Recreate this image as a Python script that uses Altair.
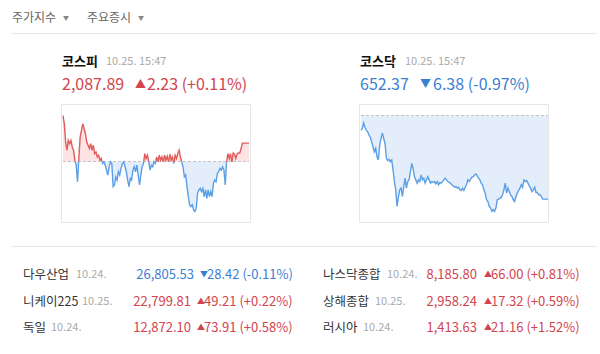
import altair as alt
import pandas as pd

# ---------------- data ----------------
kospi = [2091.24, 2090.24, 2088.03, 2087.03, 2088.23, 2087.83, 2088.23, 2087.43, 2087.03, 2085.82,
         2085.22, 2083.21, 2086.02, 2088.63, 2089.44, 2090.24, 2089.64, 2089.03, 2088.03, 2087.63,
         2087.23, 2087.83, 2087.03, 2087.63, 2086.62, 2086.82, 2086.22, 2086.42, 2085.82, 2086.02,
         2085.42, 2085.62, 2085.22, 2084.62, 2084.01, 2085.02, 2085.62, 2085.42, 2082.61, 2082.81,
         2083.81, 2083.41, 2084.42, 2084.01, 2084.82, 2085.42, 2085.62, 2085.02, 2084.42, 2083.41,
         2082.61, 2083.61, 2083.41, 2084.62, 2085.02, 2084.42, 2085.22, 2084.01, 2082.81, 2084.01,
         2085.02, 2085.42, 2086.62, 2086.02, 2086.42, 2085.62, 2084.62, 2085.22, 2085.02, 2085.62,
         2085.42, 2086.22, 2085.62, 2086.42, 2085.82, 2086.22, 2085.62, 2086.42, 2085.82, 2086.30,
         2085.62, 2086.54, 2085.82, 2086.22, 2085.42, 2086.42, 2086.02, 2086.62, 2087.03, 2086.22,
         2085.62, 2085.02, 2083.81, 2084.01, 2082.61, 2081.40, 2080.40, 2080.20, 2080.40, 2079.80,
         2079.60, 2080.00, 2081.80, 2082.21, 2082.41, 2082.01, 2082.41, 2081.40, 2082.21, 2081.20,
         2082.21, 2081.40, 2082.01, 2081.40, 2083.01, 2083.41, 2083.21, 2084.21, 2084.42, 2084.82,
         2084.62, 2085.02, 2084.62, 2082.81, 2085.62, 2086.62, 2086.02, 2086.62, 2085.62, 2086.70,
         2086.54, 2086.02, 2086.62, 2086.70, 2086.70, 2087.23, 2087.89, 2087.89, 2087.89, 2087.89,
         2087.89, 2087.89]

kosdaq = [657.64, 657.76, 658.19, 657.84, 657.64, 657.51, 657.26, 657.08, 656.75, 656.37,
          655.99, 656.24, 655.61, 655.36, 656.50, 657.00, 657.43, 657.00, 656.62, 655.48,
          655.31, 655.41, 655.23, 655.36, 654.60, 653.71, 653.08, 651.81, 652.57, 653.08,
          653.21, 652.57, 653.33, 653.97, 653.21, 653.71, 653.84, 654.47, 655.10, 654.72,
          654.09, 653.84, 653.59, 653.84, 653.71, 654.22, 653.84, 653.97, 653.59, 653.84,
          654.09, 653.84, 653.59, 653.71, 653.64, 653.71, 653.53, 653.71, 653.46, 653.64,
          653.59, 653.71, 653.84, 653.97, 653.84, 653.71, 653.64, 653.59, 653.46, 653.38,
          653.28, 653.33, 653.21, 653.28, 653.08, 653.03, 653.21, 653.03, 653.28, 653.46,
          653.84, 653.71, 653.89, 654.04, 654.09, 654.22, 654.29, 654.14, 653.97, 653.84,
          653.59, 653.46, 653.08, 652.83, 652.32, 652.19, 651.81, 651.69, 651.43, 651.56,
          651.43, 651.69, 652.32, 652.37, 652.45, 652.52, 652.70, 653.08, 653.59, 652.83,
          653.21, 652.95, 652.70, 652.57, 652.32, 652.19, 652.57, 652.83, 653.03, 653.21,
          653.46, 653.28, 653.84, 653.71, 653.79, 653.59, 653.38, 653.21, 652.95, 653.08,
          653.28, 652.88, 652.88, 652.70, 652.70, 652.57, 652.37, 652.37, 652.37, 652.37,
          652.37]

kospi_prev = 2085.66
kosdaq_prev = 658.75

tabs = ["주가지수", "주요증시"]
main_names = ["코스피", "코스닥"]
main_times = ["10.25. 15:47", "10.25. 15:47"]
main_values = ["2,087.89", "652.37"]
main_changes = ["2.23 (+0.11%)", "6.38 (-0.97%)"]
main_dir = ["up", "down"]

left_names = ["다우산업", "니케이225", "독일"]
left_dates = ["10.24.", "10.25.", "10.24."]
left_values = ["26,805.53", "22,799.81", "12,872.10"]
left_changes = ["28.42 (-0.11%)", "49.21 (+0.22%)", "73.91 (+0.58%)"]
left_dir = ["down", "up", "up"]

right_names = ["나스닥종합", "상해종합", "러시아"]
right_dates = ["10.24.", "10.25.", "10.24."]
right_values = ["8,185.80", "2,958.24", "1,413.63"]
right_changes = ["66.00 (+0.81%)", "17.32 (+0.59%)", "21.16 (+1.52%)"]
right_dir = ["up", "up", "up"]

# ---------------- styles ----------------
FONT = "Noto Sans CJK KR"
RED_T = "#d2444e"
BLUE_T = "#3b7fd3"
RED_L = "#e05a5a"
BLUE_L = "#5b9fe6"
RED_F = "#fde3e3"
BLUE_F = "#e4eefb"
TXT_COL = {"up": RED_T, "down": BLUE_T}
ARROW = {"up": "▲", "down": "▼"}

one = pd.DataFrame({"k": [0]})


def txt(s, x, y, size=12, color="#333", weight="normal", align="left"):
    return alt.Chart(pd.DataFrame({"t": [s]})).mark_text(
        align=align, baseline="middle", font=FONT, fontSize=size,
        fontWeight=weight, color=color
    ).encode(x=alt.value(x), y=alt.value(y), text="t:N")


def hrule(x0, x1, y, color="#e8e8e8"):
    return alt.Chart(one).mark_rule(color=color, strokeWidth=1).encode(
        x=alt.value(x0), x2=alt.value(x1), y=alt.value(y))


def box(x0, x1, y0, y1):
    return alt.Chart(one).mark_rect(fill="transparent", stroke="#e6e6e6", strokeWidth=1).encode(
        x=alt.value(x0), x2=alt.value(x1), y=alt.value(y0), y2=alt.value(y1))


def series(vals, base, x0, x1, ytop, ybot):
    n = len(vals)
    pts = []
    seg = 0
    for i, v in enumerate(vals):
        d = "up" if v >= base else "down"
        if i > 0:
            p = vals[i - 1]
            if (p - base) * (v - base) < 0:
                xc = i - 1 + (base - p) / (v - p)
                pdir = "up" if p >= base else "down"
                pts.append((xc, base, seg, pdir))
                seg += 1
                pts.append((xc, base, seg, d))
        pts.append((i, v, seg, d))
    df = pd.DataFrame(pts, columns=["x", "v", "seg", "dir"])
    df["base"] = base
    df["hi"] = df["v"].clip(lower=base)
    df["lo"] = df["v"].clip(upper=base)
    vmin = min(min(vals), base)
    vmax = max(max(vals), base)
    pad = (vmax - vmin) * 0.11
    xs = alt.Scale(domain=[0, n - 1], range=[x0, x1], nice=False, zero=False)
    ys = alt.Scale(domain=[vmin - pad, vmax + pad], range=[ybot, ytop], nice=False, zero=False)
    X = lambda f: alt.X(f"{f}:Q", scale=xs, axis=None)
    Y = lambda f: alt.Y(f"{f}:Q", scale=ys, axis=None)
    base_c = alt.Chart(df)
    up_area = base_c.mark_area(color=RED_F, opacity=1).encode(x=X("x"), y=Y("hi"), y2="base:Q")
    dn_area = base_c.mark_area(color=BLUE_F, opacity=1).encode(x=X("x"), y=Y("lo"), y2="base:Q")
    rule_df = pd.DataFrame({"x0": [0], "x1": [n - 1], "base": [base]})
    rule = alt.Chart(rule_df).mark_rule(color="#c4c4c4", strokeDash=[3, 2], strokeWidth=1).encode(
        x=X("x0"), x2="x1:Q", y=Y("base"))
    line = base_c.mark_line(strokeWidth=1.4, interpolate="linear").encode(
        x=X("x"), y=Y("v"),
        color=alt.Color("dir:N", scale=alt.Scale(domain=["up", "down"], range=[RED_L, BLUE_L]), legend=None),
        detail="seg:N")
    return [up_area, dn_area, rule, line]


layers = []
# tabs
layers += [txt(tabs[0], 12, 18, 12, "#666"), txt("▼", 63, 18, 6, "#888"),
           txt(tabs[1], 87, 18, 12, "#666"), txt("▼", 138, 18, 6, "#888")]
layers += [hrule(11, 597, 33.5), hrule(11, 597, 246.5)]

# main index headers
hx = [62, 360]
tx = [106, 405]
ax = [135, 420]
cx = [147, 433]
for i in range(2):
    col = TXT_COL[main_dir[i]]
    layers += [txt(main_names[i], hx[i], 62, 13, "#111", "bold"),
               txt(main_times[i], tx[i], 62, 11, "#aaa"),
               txt(main_values[i], hx[i], 85, 16, col),
               txt(ARROW[main_dir[i]], ax[i], 85, 11, col),
               txt(main_changes[i], cx[i], 85, 16, col)]

# chart boxes and series
layers += [box(61.5, 250.5, 104.5, 222.5), box(359.5, 548.5, 104.5, 222.5)]
layers += series(kospi, kospi_prev, 63, 249, 105, 222)
layers += series(kosdaq, kosdaq_prev, 361, 548, 105, 222)

# world indices table
row_y = [275, 301.5, 328]
l_date_x = [76, 82, 51]
r_date_x = [387, 375, 363]
for i in range(3):
    y = row_y[i]
    lc = TXT_COL[left_dir[i]]
    rc = TXT_COL[right_dir[i]]
    la = 200 if left_dir[i] == "down" else 197
    layers += [txt(left_names[i], 23, y, 12.5, "#333"),
               txt(left_dates[i], l_date_x[i], y, 11, "#aaa"),
               txt(left_values[i], la - 6, y, 13, lc, align="right"),
               txt(ARROW[left_dir[i]], la, y, 8, lc),
               txt(left_changes[i], la + 7, y, 13, lc),
               txt(right_names[i], 323, y, 12.5, "#333"),
               txt(right_dates[i], r_date_x[i], y, 11, "#aaa"),
               txt(right_values[i], 477, y, 13, rc, align="right"),
               txt(ARROW[right_dir[i]], 484, y, 8, rc),
               txt(right_changes[i], 491, y, 13, rc)]

chart = alt.layer(*layers).resolve_scale(
    x="independent", y="independent", color="independent"
).properties(
    width=600, height=354, padding=0, autosize="none", background="white"
).configure_view(strokeWidth=0)

chart.save("out.html", embed_options={"renderer": "svg", "actions": False})
